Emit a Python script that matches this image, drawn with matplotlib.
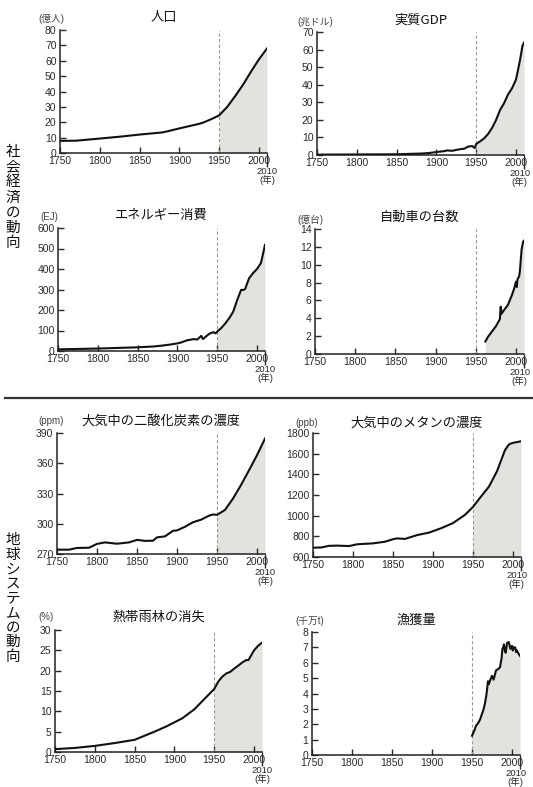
import matplotlib
matplotlib.use('Agg')
import matplotlib.pyplot as plt
from matplotlib.lines import Line2D
from matplotlib.transforms import blended_transform_factory
import numpy as np

plt.rcParams['font.family'] = ['Liberation Sans', 'Noto Sans CJK JP', 'DejaVu Sans']
JP = ['Noto Sans CJK JP', 'DejaVu Sans']

# ---------------- data ----------------
pop_years = [1750, 1770, 1800, 1825, 1850, 1875, 1880, 1900, 1925, 1930, 1940, 1950,
             1960, 1970, 1980, 1990, 2000, 2010]
pop = [7.9, 8.0, 9.4, 10.6, 12.0, 13.2, 13.5, 16.0, 19.0, 19.8, 22.0, 24.5,
       30.0, 37.0, 44.5, 53.0, 61.0, 68.0]

gdp_years = [1750, 1800, 1850, 1870, 1880, 1890, 1900, 1910, 1913, 1920, 1925, 1930,
             1935, 1940, 1945, 1948, 1950, 1955, 1960, 1965, 1970, 1975, 1980, 1985,
             1990, 1995, 2000, 2005, 2008, 2010]
gdp = [0.2, 0.3, 0.4, 0.7, 0.8, 1.1, 1.7, 2.2, 2.6, 2.4, 2.9, 3.3,
       3.6, 4.8, 5.1, 3.9, 6.3, 7.8, 9.5, 12.0, 15.5, 20.0, 25.7, 29.5,
       34.5, 38.0, 43.0, 54.0, 62.0, 64.0]

en_years = [1750, 1800, 1850, 1870, 1880, 1890, 1900, 1905, 1912, 1915, 1920, 1925,
            1930, 1932, 1935, 1940, 1945, 1948, 1950, 1955, 1960, 1965, 1970, 1975,
            1980, 1983, 1985, 1990, 1995, 2000, 2005, 2010]
energy = [8, 12, 18, 22, 26, 31, 37, 42, 52, 54, 58, 56,
          74, 58, 68, 84, 92, 86, 95, 112, 134, 160, 191, 248,
          298, 298, 302, 355, 380, 400, 430, 518]

car_years = [1962, 1965, 1970, 1975, 1980, 1981, 1982, 1985, 1990, 1995, 1998,
             2000, 2001, 2002, 2004, 2005, 2007, 2009, 2010]
cars = [1.4, 1.9, 2.5, 3.1, 3.9, 5.3, 4.5, 4.9, 5.5, 6.6, 7.4,
        8.1, 7.5, 8.4, 8.7, 9.4, 11.7, 12.6, 12.7]

co2_years = [1750, 1765, 1775, 1790, 1800, 1810, 1825, 1840, 1850, 1860, 1870, 1875,
             1885, 1895, 1900, 1910, 1920, 1930, 1940, 1945, 1950, 1960, 1970, 1980,
             1990, 2000, 2010]
co2 = [274.3, 274.3, 276.0, 276.2, 280.0, 281.5, 280.2, 281.5, 284.0, 283.0, 283.2, 286.5,
       287.5, 293.0, 293.4, 297.0, 301.5, 304.0, 308.0, 309.2, 308.8, 313.7, 325.0, 338.4,
       353.0, 368.0, 384.5]

ch4_years = [1750, 1760, 1770, 1780, 1795, 1805, 1825, 1840, 1850, 1855, 1865, 1880,
             1895, 1900, 1910, 1925, 1940, 1950, 1960, 1970, 1980, 1990, 1995, 2000,
             2005, 2010]
ch4 = [690, 692, 708, 710, 706, 723, 732, 748, 772, 780, 775, 812,
       836, 850, 878, 928, 1008, 1085, 1185, 1282, 1430, 1635, 1690, 1705,
       1712, 1720]

for_years = [1750, 1775, 1800, 1825, 1850, 1860, 1875, 1890, 1900, 1910, 1925, 1940,
             1950, 1955, 1960, 1965, 1970, 1975, 1980, 1985, 1990, 1993, 1995, 2000,
             2005, 2010]
forest = [0.7, 1.0, 1.5, 2.2, 3.0, 3.8, 5.0, 6.3, 7.3, 8.3, 10.5, 13.5,
          15.5, 17.3, 18.5, 19.3, 19.7, 20.5, 21.2, 22.0, 22.6, 22.6, 23.3, 25.0,
          26.1, 26.9]

fish_years = [1950, 1953, 1955, 1958, 1960, 1962, 1964, 1966, 1968, 1970, 1971, 1973,
              1975, 1977, 1980, 1983, 1985, 1987, 1988, 1989, 1990, 1991, 1992, 1994,
              1996, 1998, 2000, 2001, 2002, 2004, 2005, 2006, 2008, 2010]
fish = [1.25, 1.6, 1.9, 2.1, 2.3, 2.6, 2.9, 3.3, 3.9, 4.8, 4.6, 4.9,
        5.15, 4.9, 5.5, 5.6, 5.7, 6.3, 6.9, 7.0, 7.2, 6.8, 6.65, 7.3,
        7.35, 6.9, 7.1, 6.8, 7.0, 7.0, 6.7, 6.8, 6.6, 6.45]

x_ticks = [1750, 1800, 1850, 1900, 1950, 2000]
side_labels = ['社会経済の動向', '地球システムの動向']

# ---------------- layout ----------------
W, H = 533, 787
fig = plt.figure(figsize=(W / 100, H / 100), dpi=100)
fig.patch.set_facecolor('white')

panels = [
    dict(box=(60, 30, 267, 153), x=pop_years, y=pop, ylim=(0, 80), ystep=10,
         title='人口', ty=17, unit='(億人)', ux=38, uy=19),
    dict(box=(317, 32, 524, 155), x=gdp_years, y=gdp, ylim=(0, 70), ystep=10,
         title='実質GDP', ty=20, unit='(兆ドル)', ux=297, uy=22),
    dict(box=(58, 228, 265, 351), x=en_years, y=energy, ylim=(0, 600), ystep=100,
         title='エネルギー消費', ty=215, unit='(EJ)', ux=40, uy=217),
    dict(box=(315, 229, 524, 354), x=car_years, y=cars, ylim=(0, 14), ystep=2,
         title='自動車の台数', ty=217, unit='(億台)', ux=297, uy=220),
    dict(box=(57, 433, 265, 554), x=co2_years, y=co2, ylim=(270, 390), ystep=30,
         title='大気中の二酸化炭素の濃度', ty=421, unit='(ppm)', ux=38, uy=421),
    dict(box=(313, 433, 521, 557), x=ch4_years, y=ch4, ylim=(600, 1800), ystep=200,
         title='大気中のメタンの濃度', ty=423, unit='(ppb)', ux=295, uy=423),
    dict(box=(55, 630, 262, 752), x=for_years, y=forest, ylim=(0, 30), ystep=5,
         title='熱帯雨林の消失', ty=617, unit='(%)', ux=38, uy=617),
    dict(box=(312, 632, 520, 755), x=fish_years, y=fish, ylim=(0, 8), ystep=1,
         title='漁獲量', ty=620, unit='(千万t)', ux=295, uy=621),
]

SHADE = '#e4e2de'
TXT = '#2a2a2a'

for k, p in enumerate(panels):
    l, t, r, b = p['box']
    ax = fig.add_axes([l / W, 1 - b / H, (r - l) / W, (b - t) / H])
    xs = np.array(p['x'], dtype=float)
    ys = np.array(p['y'], dtype=float)
    m = xs >= 1950
    ax.fill_between(xs[m], p['ylim'][0], ys[m], color=SHADE, lw=0, zorder=1)
    ax.axvline(1950, color='#9a9a9a', lw=0.8, ls=(0, (3, 2)), zorder=2)
    ax.plot(xs, ys, color='#111111', lw=1.5, zorder=3, solid_joinstyle='round')
    ax.set_xlim(1750, 2010)
    ax.set_ylim(*p['ylim'])
    ax.set_xticks(x_ticks)
    ax.set_yticks(np.arange(p['ylim'][0], p['ylim'][1] + 0.001, p['ystep']))
    ax.set_xticks([2010], minor=True)
    ax.tick_params(which='major', direction='in', length=4, width=1.0,
                   labelsize=7.5, pad=2.5, colors=TXT)
    ax.tick_params(axis='x', which='minor', direction='out', length=10, width=1.0,
                   colors=TXT)
    for s in ('top', 'right'):
        ax.spines[s].set_visible(False)
    for s in ('left', 'bottom'):
        ax.spines[s].set_linewidth(1.1)
        ax.spines[s].set_color('#222222')
    ax.patch.set_alpha(0)
    trans = blended_transform_factory(ax.transData, ax.transAxes)
    dx = -3 if k % 2 == 1 else 0
    ax.annotate('2010\n(年)', xy=(2010, 0), xycoords=trans, xytext=(dx, -10),
                textcoords='offset points', ha='center', va='top', fontsize=6.8,
                color=TXT, linespacing=0.9,
                family=['Liberation Sans', 'Noto Sans CJK JP'])
    fig.text((l + r) / 2 / W, 1 - p['ty'] / H, p['title'], ha='center', va='center',
             fontsize=9.5, family=JP, color='#111111')
    fig.text(p['ux'] / W, 1 - p['uy'] / H, p['unit'], ha='left', va='center',
             fontsize=7, family=['Liberation Sans', 'Noto Sans CJK JP'], color='#444444')

# vertical side labels, one character per line position
for label, y0 in zip(side_labels, (152, 540)):
    step = 15.2 if len(label) == 7 else 14.6
    for i, ch in enumerate(label):
        fig.text(13 / W, 1 - (y0 + i * step) / H, ch, ha='center', va='center',
                 fontsize=10.5, family=JP, color='#111111')

fig.add_artist(Line2D([5 / W, 1.0], [1 - 398 / H, 1 - 398 / H], color='#333333', lw=1.6))

fig.savefig('out.png', dpi=100, facecolor='white')
